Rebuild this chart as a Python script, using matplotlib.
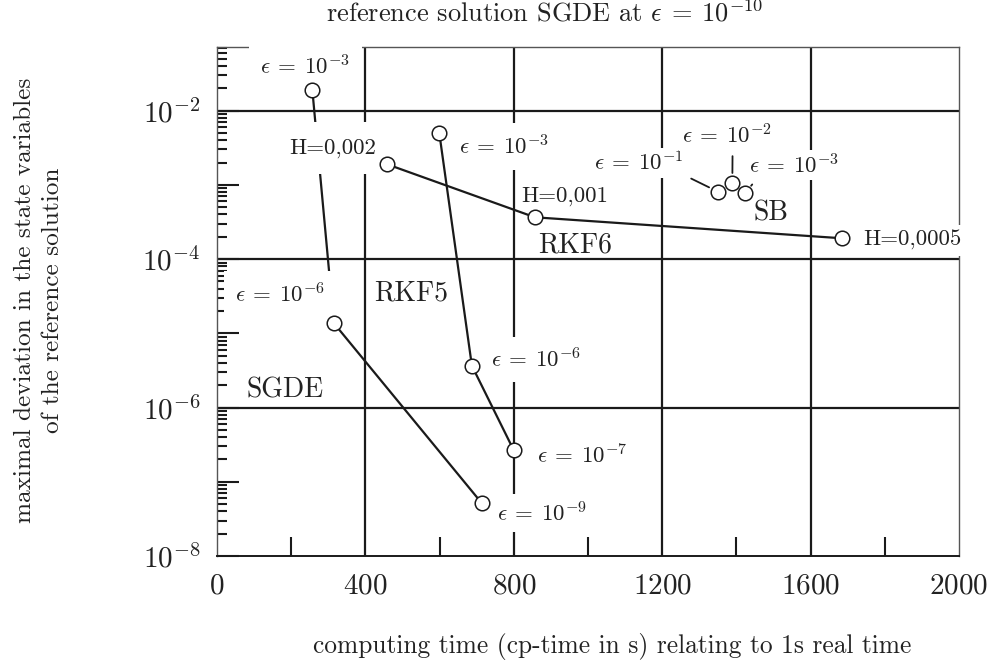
import math
import matplotlib
matplotlib.use("Agg")
import matplotlib.pyplot as plt
from matplotlib.ticker import LogLocator, FixedLocator, NullFormatter, FuncFormatter

plt.rcParams["font.family"] = "serif"
plt.rcParams["font.serif"] = ["cmr10"]
plt.rcParams["mathtext.fontset"] = "cm"
plt.rcParams["axes.formatter.use_mathtext"] = True

# data: computing time [s] vs. max deviation
sgde_time = [257, 315, 714]
sgde_err = [1.90e-2, 1.37e-5, 5.13e-8]
sgde_lbl = [r"$\epsilon\:=\:10^{-3}$", r"$\epsilon\:=\:10^{-6}$", r"$\epsilon\:=\:10^{-9}$"]

rkf5_time = [599, 687, 800]
rkf5_err = [5.06e-3, 3.66e-6, 2.65e-7]
rkf5_lbl = [r"$\epsilon\:=\:10^{-3}$", r"$\epsilon\:=\:10^{-6}$", r"$\epsilon\:=\:10^{-7}$"]

rkf6_time = [458, 857, 1684]
rkf6_err = [1.90e-3, 3.66e-4, 1.91e-4]
rkf6_lbl = ["H=0,002", "H=0,001", "H=0,0005"]

sb_time = [1350, 1389, 1423]
sb_err = [8.11e-4, 1.07e-3, 7.71e-4]
sb_lbl = [r"$\epsilon\:=\:10^{-1}$", r"$\epsilon\:=\:10^{-2}$", r"$\epsilon\:=\:10^{-3}$"]

ink = "#1a1a1a"

fig = plt.figure(figsize=(9.93, 6.6), dpi=100)
ax = fig.add_axes([217 / 993, 1 - 556 / 660, 742 / 993, 509 / 660])
ax.set_yscale("log")
ax.set_xlim(0, 2000)
ax.set_ylim(1e-8, 10 ** -1.142)

# grid lines
for yv in [1e-2, 1e-4, 1e-6]:
    ax.axhline(yv, color=ink, lw=1.6, zorder=1)
for xv in [400, 800, 1200, 1600]:
    ax.axvline(xv, color=ink, lw=1.6, zorder=1)

# curves
for t, e in [(sgde_time, sgde_err), (rkf5_time, rkf5_err), (rkf6_time, rkf6_err)]:
    ax.plot(t, e, color=ink, lw=1.6, zorder=2)
for t, e in [(sgde_time, sgde_err), (rkf5_time, rkf5_err), (rkf6_time, rkf6_err), (sb_time, sb_err)]:
    ax.plot(t, e, ls="none", marker="o", ms=10.5, mfc="white", mec=ink, mew=1.1, zorder=5)

fs = 16.5
def label(txt, x, y, dx, dy, pad=0.3, **kw):
    ax.annotate(txt, (x, y), xytext=(dx, dy), textcoords="offset pixels",
                ha="center", va="center", fontsize=fs, color="#222222", zorder=3,
                bbox=dict(boxstyle=f"square,pad={pad}", fc="white", ec="none"), **kw)

# offsets in pixels from each point
label(sgde_lbl[0], sgde_time[0], sgde_err[0], -7, 24, pad=0.5)
label(sgde_lbl[1], sgde_time[1], sgde_err[1], -54, 29, pad=0.5)
label(sgde_lbl[2], sgde_time[2], sgde_err[2], 60, -10)
label(rkf5_lbl[0], rkf5_time[0], rkf5_err[0], 65, -14, pad=0.5)
label(rkf5_lbl[1], rkf5_time[1], rkf5_err[1], 64, 6, pad=0.45)
label(rkf5_lbl[2], rkf5_time[2], rkf5_err[2], 68, -5, pad=0.45)
label(rkf6_lbl[0], rkf6_time[0], rkf6_err[0], -54, 16, pad=0.7)
label(rkf6_lbl[1], rkf6_time[1], rkf6_err[1], 30, 21, pad=0.12)
label(rkf6_lbl[2], rkf6_time[2], rkf6_err[2], 71, -2, pad=0.25)

lead = dict(arrowstyle="-", color=ink, lw=1.3, shrinkA=4, shrinkB=7)
label(sb_lbl[0], sb_time[0], sb_err[0], -79, 29, pad=0.12,
      arrowprops=dict(lead, relpos=(1, 0)))
label(sb_lbl[1], sb_time[1], sb_err[1], -6, 47, pad=0.12,
      arrowprops=dict(lead, relpos=(0.57, 0)))
label(sb_lbl[2], sb_time[2], sb_err[2], 49, 28, pad=0.12,
      arrowprops=dict(lead, relpos=(0.1, 0)))

# method names
for txt, xf, yf in [("RKF6", 0.4825, 0.611), ("SB", 0.7466, 0.674),
                    ("RKF5", 0.2615, 0.5167), ("SGDE", 0.0916, 0.326)]:
    ax.text(xf, yf, txt, transform=ax.transAxes, ha="center", va="center",
            fontsize=20, color="#222222", zorder=3)

# axes styling
for s in ax.spines.values():
    s.set_color("#555555")
    s.set_linewidth(1.0)
ax.spines["bottom"].set_color(ink)
ax.spines["bottom"].set_linewidth(1.4)


def even_decades(v, pos):
    k = round(math.log10(v))
    return r"$10^{%d}$" % k if k % 2 == 0 else ""


ax.yaxis.set_major_locator(LogLocator(base=10, numticks=20))
ax.yaxis.set_minor_locator(LogLocator(base=10, subs=range(2, 10), numticks=20))
ax.yaxis.set_minor_formatter(NullFormatter())
ax.yaxis.set_major_formatter(FuncFormatter(even_decades))
ax.xaxis.set_major_locator(FixedLocator([0, 400, 800, 1200, 1600, 2000]))
ax.xaxis.set_minor_locator(FixedLocator([200, 600, 1000, 1400, 1800]))
ax.tick_params(axis="y", which="major", direction="in", length=16, width=1.5, color=ink,
               labelsize=21, pad=12, labelcolor="#222222")
ax.tick_params(axis="y", which="minor", direction="in", length=7, width=1.5, color=ink)
ax.tick_params(axis="x", which="major", direction="in", length=0, labelsize=21, pad=12,
               labelcolor="#222222")
ax.tick_params(axis="x", which="minor", direction="in", length=14, width=1.5, color=ink)

fig.text(545 / 993, 1 - 13 / 660, r"reference solution SGDE at $\epsilon\:=\:10^{-10}$",
         ha="center", va="center", fontsize=19, color="#222222")
fig.text(612 / 993, 1 - 646 / 660, "computing time (cp-time in s) relating to 1s real time",
         ha="center", va="center", fontsize=18.3, color="#222222")
fig.text(39 / 993, 1 - 300 / 660,
         "maximal deviation in the state variables\nof the reference solution",
         ha="center", va="center", rotation=90, fontsize=18.2, color="#222222",
         multialignment="center", linespacing=1.35)

fig.savefig("out.png", dpi=100)
